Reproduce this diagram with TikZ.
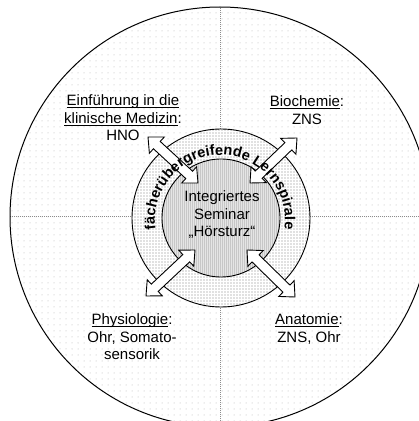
\documentclass[tikz,border=0pt]{standalone}
\usepackage{fontspec}
\setmainfont{Liberation Sans}
\usetikzlibrary{calc,patterns.meta,decorations.text}
\newcommand\ulin[1]{\setbox0\hbox{#1}\rlap{\rule[-2.6pt]{\wd0}{1.1pt}}\box0}
\newcommand\curvefont{\fontsize{14.5}{15}\selectfont\bfseries}
\newcommand\blockarrow[2]{%
  \draw[blockarr] (#1)
    -- ($(#1)!\hl!(#2)!\hw!90:(#2)$)
    -- ($(#1)!\hl!(#2)!\sw!90:(#2)$)
    -- ($(#2)!\hl!(#1)!\sw!-90:(#1)$)
    -- ($(#2)!\hl!(#1)!\hw!-90:(#1)$)
    -- (#2)
    -- ($(#2)!\hl!(#1)!\hw!90:(#1)$)
    -- ($(#2)!\hl!(#1)!\sw!90:(#1)$)
    -- ($(#1)!\hl!(#2)!\sw!-90:(#2)$)
    -- ($(#1)!\hl!(#2)!\hw!-90:(#2)$)
    -- cycle;}
\def\hl{12pt}
\def\hw{11pt}
\def\sw{5pt}
\begin{document}
\begin{tikzpicture}[x=1pt,y=1pt,
  lbl/.style={align=center, font=\fontsize{15}{17.5}\selectfont, inner sep=0pt},
  blockarr/.style={draw=black, line width=0.9pt, fill=white, line join=miter},
  quadline/.style={draw=black!45, line width=0.6pt, dash pattern=on 0.8pt off 1.2pt}]
\useasboundingbox (0,0) rectangle (419,421);
\clip (0,0) rectangle (419,421);
\fill[white] (0,0) rectangle (419,421);
\coordinate (O) at (220,204);
\coordinate (C) at (221,203);
\coordinate (T) at (220,201);
% big circle
\path[pattern={Dots[distance=6pt,radius=0.5pt]}, pattern color=black!30] (O) circle[radius=210];
\begin{scope}
  \clip (O) circle[radius=210];
  \coordinate (vt) at (220,421);
  \coordinate (vb) at (220,0);
  \coordinate (hl) at (0,205);
  \coordinate (hr) at (419,205);
  \draw[quadline] (vt) -- (vb);
  \draw[quadline] (hl) -- (hr);
\end{scope}
\draw[line width=1pt] (O) circle[radius=210];
% ring
\fill[white] (C) circle[radius=89];
\path[pattern={Dots[distance=3pt,radius=0.55pt]}, pattern color=black!50] (C) circle[radius=89];
\draw[line width=0.9pt] (C) circle[radius=89];
% inner circle
\fill[black!10] (C) circle[radius=59];
\path[pattern={Lines[angle=90,distance=2pt,line width=0.5pt]}, pattern color=black!22] (C) circle[radius=59];
\draw[line width=0.9pt] (C) circle[radius=59];
% arrows
\coordinate (ulo) at (148,284);
\coordinate (uli) at (198,238);
\coordinate (uro) at (297,283);
\coordinate (uri) at (250,238);
\coordinate (llo) at (146,125);
\coordinate (lli) at (195,171);
\coordinate (lro) at (295,124);
\coordinate (lri) at (247,171);
\blockarrow{ulo}{uli}
\blockarrow{uro}{uri}
\blockarrow{llo}{lli}
\blockarrow{lro}{lri}
% curved text
\path[decorate, decoration={text along path, text align=center,
   text={|\curvefont|fächerübergreifende Lernspirale}}]
   ($(T)+(200:65)$) arc[start angle=200, end angle=-20, radius=65];
% center text
\node[lbl] (center) at (222,206) {Integriertes\\Seminar\\„Hörsturz“};
% labels
\node[lbl] (ul) at (123,303) {\ulin{Einführung in die}\\\ulin{klinische Medizin}:\\HNO};
\node[lbl] (ur) at (307,311) {\ulin{Biochemie}:\\ZNS};
\node[lbl] (ll) at (132,84) {\ulin{Physiologie}:\\Ohr, Somato-\\sensorik};
\node[lbl] (lr) at (309,92) {\ulin{Anatomie}:\\ZNS, Ohr};
\end{tikzpicture}
\end{document}
